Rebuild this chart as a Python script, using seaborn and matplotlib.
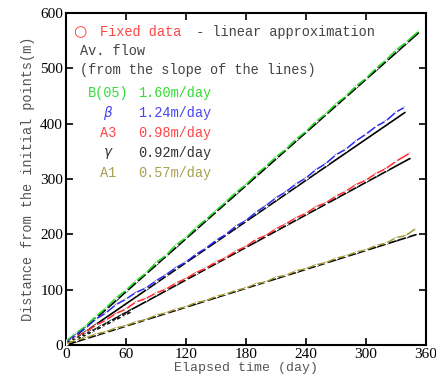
import numpy as np
import pandas as pd
import matplotlib
matplotlib.use("Agg")
import matplotlib.pyplot as plt
import seaborn as sns

days_b05 = [0, 10, 20, 30, 40, 50, 60, 70, 80, 90, 100, 110, 120, 130, 140, 150, 160, 170,
            180, 190, 200, 210, 220, 230, 240, 250, 260, 270, 280, 290, 300, 310, 320, 330, 340, 353]
dist_b05 = [7, 21, 35, 52, 67, 85, 99, 116, 130, 149, 162, 181, 194, 212, 227, 243, 259, 276,
            290, 308, 323, 340, 354, 372, 386, 404, 418, 436, 450, 468, 482, 500, 515, 533, 547, 568]

days_beta = [0, 10, 20, 30, 40, 50, 60, 70, 80, 90, 100, 110, 120, 130, 140, 150, 160, 170,
             180, 190, 200, 210, 220, 230, 240, 250, 260, 270, 280, 290, 300, 310, 320, 330, 339]
dist_beta = [4, 19, 31, 47, 58, 73, 83, 95, 103, 116, 127, 140, 150, 164, 175, 189, 200, 215,
             225, 240, 252, 266, 277, 291, 302, 317, 328, 344, 354, 369, 381, 395, 405, 421, 430]

days_a3 = [0, 10, 20, 30, 40, 50, 60, 70, 80, 90, 100, 110, 120, 130, 140, 150, 160, 170,
           180, 190, 200, 210, 220, 230, 240, 250, 260, 270, 280, 290, 300, 310, 320, 330, 344]
dist_a3 = [3, 14, 24, 36, 45, 57, 65, 78, 84, 94, 101, 112, 120, 131, 139, 150, 158, 170,
           178, 191, 198, 210, 219, 230, 238, 250, 257, 269, 278, 290, 298, 310, 319, 332, 347]

days_gamma = [0, 5, 10, 15, 20, 25, 30, 35, 40, 45, 50, 55, 60, 65]
dist_gamma = [3, 9, 12, 17, 20, 26, 28, 35, 37, 44, 46, 53, 55, 62]

days_a1 = [0, 10, 20, 30, 40, 50, 60, 70, 80, 90, 100, 110, 120, 130, 140, 150, 160, 170,
           180, 190, 200, 210, 220, 230, 240, 250, 260, 270, 280, 290, 300, 310, 320, 330, 340, 350]
dist_a1 = [2, 9, 13, 20, 24, 31, 35, 42, 46, 54, 58, 65, 69, 77, 80, 88, 92, 99,
           103, 111, 114, 123, 126, 134, 138, 145, 149, 157, 161, 168, 172, 180, 184, 194, 198, 211]

names = ["B(05)", "β", "A3", "γ", "A1"]
label_text = ["B(05)", r"$\beta$", "A3", r"$\gamma$", "A1"]
slopes = [1.60, 1.24, 0.98, 0.92, 0.57]
fit_end = [353, 339, 344, 65, 350]
colors = ["#22dd22", "#2a2aee", "#ff2a2a", "#222222", "#a09a30"]
text_colors = ["#33dd33", "#4646ee", "#ff4646", "#333333", "#a8a050"]

all_days = [days_b05, days_beta, days_a3, days_gamma, days_a1]
all_dist = [dist_b05, dist_beta, dist_a3, dist_gamma, dist_a1]

df = pd.concat([pd.DataFrame({"day": d, "dist": v, "site": n})
                for d, v, n in zip(all_days, all_dist, names)], ignore_index=True)

sns.set_style("ticks")
plt.rcParams["font.family"] = ["Liberation Serif", "DejaVu Serif"]

fig = plt.figure(figsize=(4.36, 3.83), dpi=100)
ax = fig.add_axes([0.151, 0.099, 0.826, 0.867])

# black linear approximations
for s, e in zip(slopes, fit_end):
    xs = np.array([0, e])
    ax.plot(xs, s * xs, color="black", lw=1.2, zorder=2)

sns.lineplot(data=df, x="day", y="dist", hue="site", hue_order=names,
             palette=dict(zip(names, colors)), lw=1.1, marker="+", markersize=3.5,
             markeredgewidth=0.9, legend=False, ax=ax, zorder=3)

ax.set_xlim(0, 360)
ax.set_ylim(0, 600)
ax.set_xticks(range(0, 361, 60))
ax.set_yticks(range(0, 601, 100))
ax.tick_params(direction="in", top=True, right=True, length=5, width=1.2,
               labelsize=11, colors="black", pad=2)
for sp in ax.spines.values():
    sp.set_linewidth(1.5)
    sp.set_color("black")

mono = "Liberation Mono"
ax.set_xlabel("Elapsed time (day)", family=mono, fontsize=9.5, color="#555555", labelpad=1)
ax.set_ylabel("Distance from the initial points(m)", family=mono, fontsize=9.8,
              color="#555555", labelpad=4)

tr = ax.transAxes
def px(x, y):
    return ((x - 66) / 360, (345 - y) / 332)

ax.text(*px(73, 32), "○", transform=tr, color="#ff3333", fontsize=11, va="center", ha="left", family="DejaVu Sans")
ax.text(*px(100, 32), "Fixed data", transform=tr, color="#ff4444", fontsize=9.8, va="center", family=mono)
ax.text(*px(188, 32), " - linear approximation", transform=tr, color="#444444", fontsize=9.8, va="center", family=mono)
ax.text(*px(80, 51), "Av. flow", transform=tr, color="#444444", fontsize=9.8, va="center", family=mono)
ax.text(*px(80, 70), "(from the slope of the lines)", transform=tr, color="#444444", fontsize=9.8,
        va="center", family=mono)

row_y = [93, 113, 133, 153, 173]
for lab, s, c, y in zip(label_text, slopes, text_colors, row_y):
    ax.text(*px(108, y), lab, transform=tr, color=c, fontsize=9.8, va="center", ha="center", family=mono)
    ax.text(*px(138, y), f"{s:.2f}m/day", transform=tr, color=c, fontsize=9.8, va="center", family=mono)

fig.savefig("out.png", dpi=100)
